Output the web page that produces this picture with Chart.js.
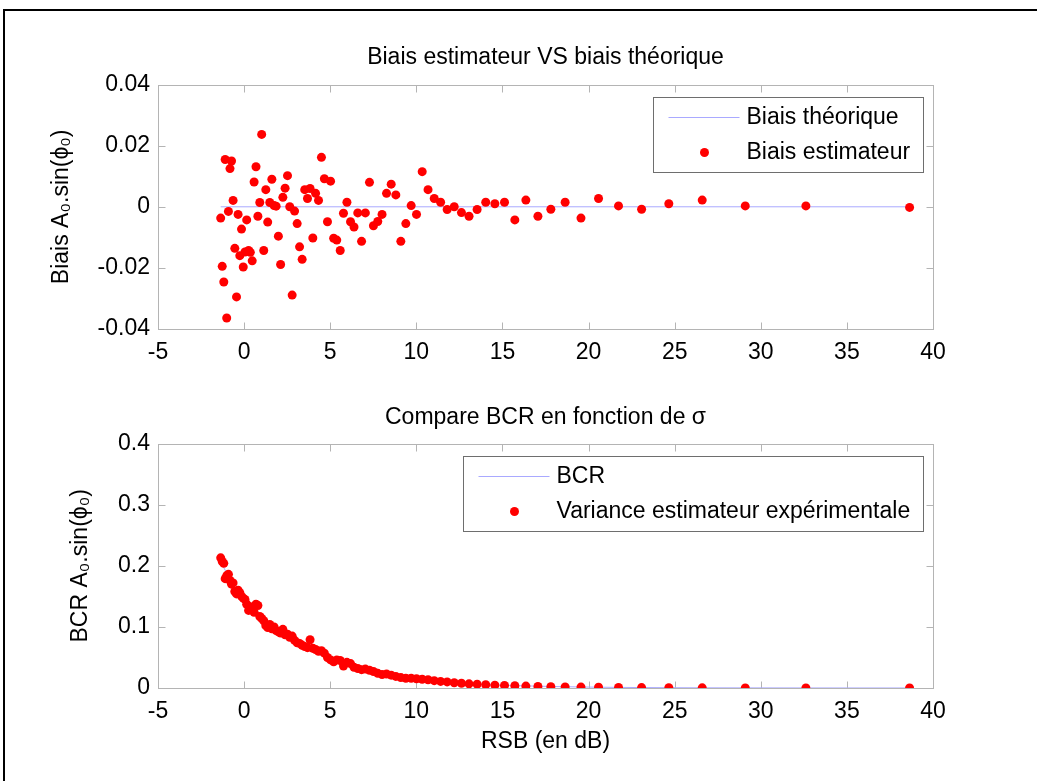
<!DOCTYPE html>
<html>
<head>
<meta charset="utf-8">
<script src="https://cdn.jsdelivr.net/npm/chart.js@4.4.0/dist/chart.umd.min.js"></script>
<style>
  body { margin: 0; background: #fff; width: 1037px; height: 781px; overflow: hidden; position: relative; }
  #frame { position: absolute; left: 3px; top: 9px; width: 1100px; height: 800px;
           border-top: 2px solid #000; border-left: 2px solid #000; }
  canvas { position: absolute; left: 0; top: 0; }
</style>
</head>
<body>
<div id="frame"></div>
<canvas id="biasChart" width="1037" height="781"></canvas>
<canvas id="bcrChart" width="1037" height="781"></canvas>
<script>
// RSB (dB) of each simulation, shared by both plots
const rsb = [
  -1.36, -1.27, -1.18, -1.10, -1.01, -0.91, -0.82, -0.73, -0.64, -0.54,
  -0.44, -0.35, -0.25, -0.15, -0.05, 0.05, 0.15, 0.26, 0.36, 0.47,
  0.58, 0.69, 0.80, 0.91, 1.02, 1.14, 1.26, 1.37, 1.49, 1.61,
  1.74, 1.86, 1.99, 2.12, 2.25, 2.38, 2.52, 2.65, 2.79, 2.93,
  3.08, 3.22, 3.37, 3.52, 3.68, 3.83, 3.99, 4.15, 4.32, 4.49,
  4.66, 4.84, 5.02, 5.20, 5.38, 5.58, 5.77, 5.97, 6.18, 6.38,
  6.60, 6.82, 7.04, 7.28, 7.51, 7.76, 8.01, 8.27, 8.54, 8.81,
  9.10, 9.39, 9.70, 10.01, 10.34, 10.68, 11.04, 11.41, 11.79, 12.20,
  12.62, 13.06, 13.53, 14.03, 14.56, 15.12, 15.72, 16.36, 17.06, 17.81,
  18.64, 19.56, 20.58, 21.74, 23.08, 24.66, 26.60, 29.10, 32.62, 38.64
];

// top plot : estimator bias
const biasEst = [
  -0.0037, -0.0195, -0.0246, 0.0155, -0.0364, -0.0015, 0.0125, 0.0150, 0.0021, -0.0136,
  -0.0295, -0.0025, -0.0160, -0.0073, -0.0197, -0.0148, -0.0043, -0.0143, -0.0149, -0.0177,
  0.0081, 0.0131, -0.0031, 0.0014, 0.0237, -0.0143, 0.0056, -0.0050, 0.0014, 0.0090,
  0.0004, 0.0002, -0.0096, -0.0189, 0.0031, 0.0061, 0.0102, 0.0000, -0.0289, -0.0014,
  -0.0055, -0.0131, -0.0172, 0.0056, 0.0027, 0.0060, -0.0102, 0.0044, 0.0021, 0.0162,
  0.0092, -0.0049, 0.0084, -0.0103, -0.0109, -0.0143, -0.0021, 0.0015, -0.0049, -0.0066,
  -0.0020, -0.0113, -0.0020, 0.0080, -0.0062, -0.0048, -0.0025, 0.0044, 0.0074, 0.0039,
  -0.0113, -0.0055, 0.0004, -0.0025, 0.0115, 0.0056, 0.0027, 0.0015, -0.0009, 0.0000,
  -0.0019, -0.0031, -0.0009, 0.0015, 0.0010, 0.0015, -0.0043, 0.0022, -0.0031, -0.0008,
  0.0015, -0.0037, 0.0027, 0.0003, -0.0008, 0.0010, 0.0022, 0.0003, 0.0003, -0.0002
];
const theoRsb = [-1.36, 38.64];
const biasTheo = [0, 0];

// bottom plot : experimental variance and BCR
const varEst = [
  0.213, 0.207, 0.204, 0.179, 0.184, 0.186, 0.176, 0.170, 0.172, 0.158,
  0.154, 0.160, 0.156, 0.150, 0.147, 0.145, 0.137, 0.127, 0.133, 0.131,
  0.124, 0.137, 0.135, 0.117, 0.114, 0.110, 0.102, 0.099, 0.104, 0.097,
  0.100, 0.094, 0.092, 0.090, 0.096, 0.087, 0.088, 0.083, 0.085, 0.078,
  0.074, 0.073, 0.070, 0.068, 0.066, 0.079, 0.065, 0.063, 0.060, 0.061,
  0.057, 0.050, 0.046, 0.043, 0.046, 0.045, 0.036, 0.042, 0.040, 0.034,
  0.032, 0.030, 0.031, 0.029, 0.027, 0.024, 0.022, 0.023, 0.021, 0.019,
  0.017, 0.016, 0.016, 0.0152, 0.0143, 0.0135, 0.0120, 0.0108, 0.0100, 0.0085,
  0.0078, 0.0068, 0.0062, 0.0053, 0.0047, 0.0041, 0.0036, 0.0031, 0.0026, 0.0021,
  0.0018, 0.0015, 0.0012, 0.0009, 0.0007, 0.0005, 0.0003, 0.0002, 0.0001, 0.00003
];
const bcr = [
  0.2050, 0.2009, 0.1969, 0.1929, 0.1889, 0.1850, 0.1811, 0.1773, 0.1735, 0.1698,
  0.1661, 0.1624, 0.1588, 0.1552, 0.1516, 0.1481, 0.1446, 0.1412, 0.1378, 0.1345,
  0.1312, 0.1279, 0.1247, 0.1215, 0.1184, 0.1153, 0.1123, 0.1092, 0.1063, 0.1033,
  0.1005, 0.0976, 0.0948, 0.0920, 0.0893, 0.0866, 0.0840, 0.0814, 0.0788, 0.0763,
  0.0738, 0.0714, 0.0690, 0.0666, 0.0643, 0.0620, 0.0598, 0.0576, 0.0554, 0.0533,
  0.0513, 0.0492, 0.0472, 0.0453, 0.0434, 0.0415, 0.0397, 0.0379, 0.0362, 0.0345,
  0.0328, 0.0312, 0.0296, 0.0281, 0.0266, 0.0251, 0.0237, 0.0223, 0.0210, 0.0197,
  0.0185, 0.0172, 0.0161, 0.0149, 0.0139, 0.0128, 0.0118, 0.0108, 0.0099, 0.0090,
  0.0082, 0.0074, 0.0066, 0.0059, 0.0052, 0.0046, 0.0040, 0.0035, 0.0030, 0.0025,
  0.0021, 0.0017, 0.0013, 0.0010, 0.0007, 0.0005, 0.0003, 0.0002, 0.0001, 0.00002
];

// axis ticks
const rsbTicks = [-5, 0, 5, 10, 15, 20, 25, 30, 35, 40];
const rsbTickLabels = ['-5', '0', '5', '10', '15', '20', '25', '30', '35', '40'];
const biasTicks = [-0.04, -0.02, 0, 0.02, 0.04];
const biasTickLabels = ['-0.04', '-0.02', '0', '0.02', '0.04'];
const bcrTicks = [0, 0.1, 0.2, 0.3, 0.4];
const bcrTickLabels = ['0', '0.1', '0.2', '0.3', '0.4'];

const FONT = '"Liberation Sans", Arial, sans-serif';
const LINE_BLUE = '#a9a9ff';
const DOT_RED = '#ff0000';

Chart.defaults.font.family = FONT;
Chart.defaults.font.size = 23;
Chart.defaults.color = '#000';

function toPoints(xs, ys) {
  return xs.map((x, i) => ({ x: x, y: ys[i] }));
}

function setTicks(values) {
  return function (axis) {
    axis.ticks = values.map(v => ({ value: v }));
  };
}

// matlab style : grey box with inward ticks, legend box in the upper right
const matlabAxes = {
  id: 'matlabAxes',
  afterLayout(chart) {
    // center the title over the axes, not over the whole canvas
    if (chart.titleBlock) {
      chart.titleBlock.left = chart.chartArea.left;
      chart.titleBlock.right = chart.chartArea.right;
    }
  },
  beforeDatasetsDraw(chart) {
    const { ctx, chartArea: a, scales } = chart;
    const l = Math.round(a.left) + 0.5, r = Math.round(a.right) + 0.5;
    const t = Math.round(a.top) + 0.5, b = Math.round(a.bottom) + 0.5;
    ctx.save();
    ctx.strokeStyle = '#b4b4b4';
    ctx.lineWidth = 1;
    ctx.strokeRect(l, t, r - l, b - t);
    ctx.beginPath();
    scales.x.ticks.forEach(tk => {
      const px = Math.round(scales.x.getPixelForValue(tk.value)) + 0.5;
      ctx.moveTo(px, b); ctx.lineTo(px, b - 7);
      ctx.moveTo(px, t); ctx.lineTo(px, t + 7);
    });
    scales.y.ticks.forEach(tk => {
      const py = Math.round(scales.y.getPixelForValue(tk.value)) + 0.5;
      ctx.moveTo(l, py); ctx.lineTo(l + 7, py);
      ctx.moveTo(r, py); ctx.lineTo(r - 7, py);
    });
    ctx.stroke();
    ctx.restore();
  },
  afterDatasetsDraw(chart, args, opts) {
    const { ctx, chartArea: a } = chart;
    const left = Math.round(a.right - opts.marginRight - opts.width) + 0.5;
    const top = Math.round(a.top + opts.marginTop) + 0.5;
    ctx.save();
    ctx.fillStyle = '#fff';
    ctx.fillRect(left, top, opts.width, opts.height);
    ctx.strokeStyle = '#6e6e6e';
    ctx.lineWidth = 1;
    ctx.strokeRect(left, top, opts.width, opts.height);
    ctx.font = '23px ' + FONT;
    ctx.textBaseline = 'middle';
    ctx.textAlign = 'left';
    chart.data.datasets.forEach((ds, i) => {
      const y = top + 20 + i * 35;
      if (ds.showLine) {
        ctx.strokeStyle = ds.borderColor;
        ctx.lineWidth = ds.borderWidth;
        ctx.beginPath();
        ctx.moveTo(left + 15, y);
        ctx.lineTo(left + 86, y);
        ctx.stroke();
      } else {
        ctx.fillStyle = ds.backgroundColor;
        ctx.beginPath();
        ctx.arc(left + 51, y, ds.pointRadius, 0, Math.PI * 2);
        ctx.fill();
      }
      ctx.fillStyle = '#000';
      ctx.fillText(ds.label, left + 93, y);
    });
    ctx.restore();
  }
};

function lineSet(label, pts) {
  return {
    label: label, data: pts, showLine: true, borderColor: LINE_BLUE, borderWidth: 1,
    pointRadius: 0, order: 2
  };
}

function dotSet(label, pts) {
  return {
    label: label, data: pts, showLine: false, backgroundColor: DOT_RED, borderWidth: 0,
    pointRadius: 4.5, order: 1
  };
}

function xScale(height, withTitle) {
  return {
    type: 'linear', min: -5, max: 40,
    afterBuildTicks: setTicks(rsbTicks),
    afterFit: s => { s.height = height; },
    grid: { display: false, drawTicks: false },
    border: { display: false },
    ticks: { padding: 10, maxRotation: 0, autoSkip: false, callback: (v, i) => rsbTickLabels[i] },
    title: { display: withTitle, text: 'RSB (en dB)', padding: { top: 0, bottom: 0 } }
  };
}

function yScale(min, max, ticks, labels, width, title) {
  return {
    type: 'linear', min: min, max: max,
    afterBuildTicks: setTicks(ticks),
    afterFit: s => { s.width = width; },
    grid: { display: false, drawTicks: false },
    border: { display: false },
    ticks: { padding: 8, autoSkip: false, callback: (v, i) => labels[i] },
    title: { display: true, text: title, padding: { top: 0, bottom: 0 } }
  };
}

const biasChart = new Chart(document.getElementById('biasChart'), {
  type: 'scatter',
  data: {
    datasets: [
      lineSet('Biais théorique', toPoints(theoRsb, biasTheo)),
      dotSet('Biais estimateur', toPoints(rsb, biasEst))
    ]
  },
  options: {
    responsive: false,
    animation: false,
    layout: { padding: { left: 48, right: 104, top: 44, bottom: 412 } },
    scales: {
      x: xScale(40, false),
      y: yScale(-0.04, 0.04, biasTicks, biasTickLabels, 110, 'Biais A₀.sin(ϕ₀)')
    },
    plugins: {
      legend: { display: false },
      tooltip: { enabled: false },
      title: {
        display: true, text: 'Biais estimateur VS biais théorique',
        font: { size: 23, weight: 'normal' }, padding: { top: 0, bottom: 13 }
      },
      matlabAxes: { width: 270, height: 75, marginRight: 10, marginTop: 12 }
    }
  },
  plugins: [matlabAxes]
});

const bcrChart = new Chart(document.getElementById('bcrChart'), {
  type: 'scatter',
  data: {
    datasets: [
      lineSet('BCR', toPoints(rsb, bcr)),
      dotSet('Variance estimateur expérimentale', toPoints(rsb, varEst))
    ]
  },
  options: {
    responsive: false,
    animation: false,
    layout: { padding: { left: 67, right: 104, top: 404, bottom: 26 } },
    scales: {
      x: xScale(67, true),
      y: yScale(0, 0.4, bcrTicks, bcrTickLabels, 91, 'BCR A₀.sin(ϕ₀)')
    },
    plugins: {
      legend: { display: false },
      tooltip: { enabled: false },
      title: {
        display: true, text: 'Compare BCR en fonction de σ',
        font: { size: 23, weight: 'normal' }, padding: { top: 0, bottom: 12 }
      },
      matlabAxes: { width: 460, height: 75, marginRight: 10, marginTop: 12 }
    }
  },
  plugins: [matlabAxes]
});
</script>
</body>
</html>
